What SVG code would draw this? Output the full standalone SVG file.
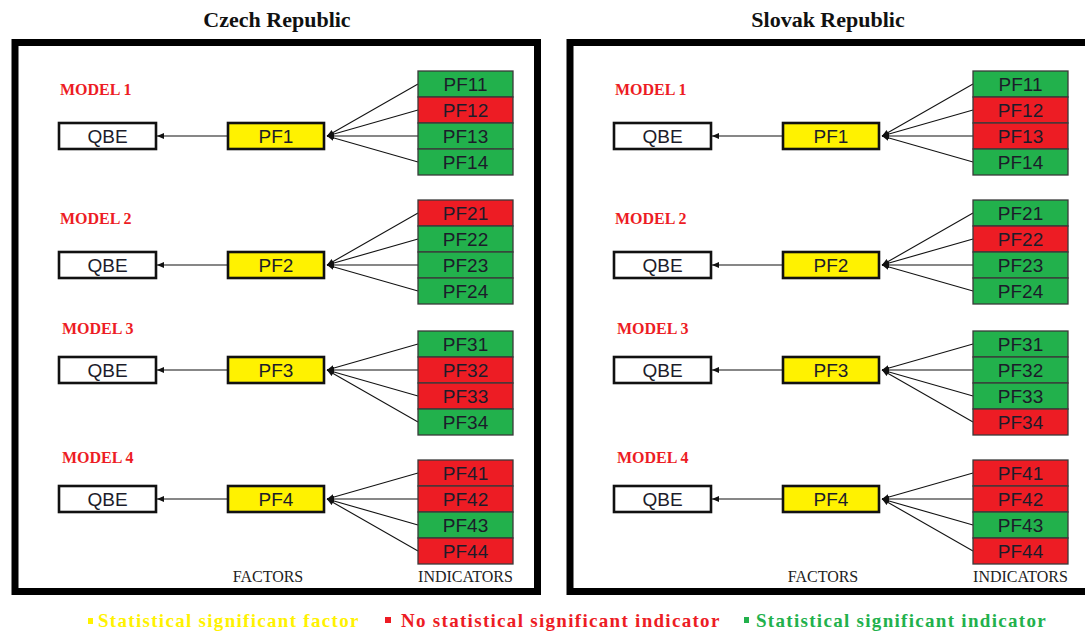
<svg xmlns="http://www.w3.org/2000/svg" width="1085" height="632" viewBox="0 0 1085 632">
  <style>
    .frame { fill: none; stroke: #000; stroke-width: 7; }
    .title { font-family: "Liberation Serif", "Times New Roman", serif; font-weight: bold; font-size: 22px; fill: #111; text-anchor: middle; }
    .model { font-family: "Liberation Serif", "Times New Roman", serif; font-weight: bold; font-size: 16px; fill: #ED1C24; }
    .axis { font-family: "Liberation Serif", "Times New Roman", serif; font-size: 16px; fill: #222; text-anchor: middle; }
    .lbl { font-family: "Liberation Sans", Arial, sans-serif; font-size: 19px; fill: #1c1c2a; text-anchor: middle; }
    .ind rect { stroke: #3a3a3a; stroke-width: 1.3; }
    .g rect { fill: #22B14C; }
    .r rect { fill: #ED1C24; }
    .fac rect { fill: #FFF200; stroke: #111; stroke-width: 2.6; }
    .qbe rect { fill: #fff; stroke: #111; stroke-width: 2.6; }
    .edges line { stroke: #111; stroke-width: 1.1; marker-end: url(#ah); }
    .legend { font-family: "Liberation Serif", "Times New Roman", serif; font-weight: bold; font-size: 19px; letter-spacing: 1.3px; }
  </style>
  <defs>
    <marker id="ah" markerUnits="userSpaceOnUse" markerWidth="8" markerHeight="8" refX="7" refY="3.5" orient="auto">
      <path d="M0,0.5 L7,3.5 L0,6.5 z" fill="#111"/>
    </marker>
  </defs>

  <rect width="1085" height="632" fill="#fff"/>

  <!-- panel titles -->
  <g id="titles">
    <text class="title" x="277" y="27">Czech Republic</text>
    <text class="title" x="828" y="27">Slovak Republic</text>
  </g>

  <!-- ===================== Czech Republic ===================== -->
  <g id="czech">
    <rect class="frame" x="15" y="42.5" width="522.5" height="549"/>

    <g id="cz-connectors" class="edges">
      <line x1="228" y1="136" x2="157" y2="136"/>
      <line x1="418" y1="84" x2="327" y2="136"/>
      <line x1="418" y1="110" x2="327" y2="136"/>
      <line x1="418" y1="136" x2="327" y2="136"/>
      <line x1="418" y1="162" x2="327" y2="136"/>

      <line x1="228" y1="265" x2="157" y2="265"/>
      <line x1="418" y1="213" x2="327" y2="265"/>
      <line x1="418" y1="239" x2="327" y2="265"/>
      <line x1="418" y1="265" x2="327" y2="265"/>
      <line x1="418" y1="291" x2="327" y2="265"/>

      <line x1="228" y1="370" x2="157" y2="370"/>
      <line x1="418" y1="344" x2="327" y2="370"/>
      <line x1="418" y1="370" x2="327" y2="370"/>
      <line x1="418" y1="396" x2="327" y2="370"/>
      <line x1="418" y1="422" x2="327" y2="370"/>

      <line x1="228" y1="499" x2="157" y2="499"/>
      <line x1="418" y1="473" x2="327" y2="499"/>
      <line x1="418" y1="499" x2="327" y2="499"/>
      <line x1="418" y1="525" x2="327" y2="499"/>
      <line x1="418" y1="551" x2="327" y2="499"/>
    </g>

    <text class="model" x="60" y="95">MODEL 1</text>
    <text class="model" x="60" y="224">MODEL 2</text>
    <text class="model" x="62" y="334">MODEL 3</text>
    <text class="model" x="62" y="463">MODEL 4</text>

    <!-- model 1 -->
    <g id="cz-qbe1" class="qbe"><rect x="59" y="123" width="97" height="26"/><text class="lbl" x="107.5" y="142.8">QBE</text></g>
    <g id="cz-pf1" class="fac"><rect x="228" y="123" width="96" height="26"/><text class="lbl" x="276" y="142.8">PF1</text></g>
    <g id="cz-pf11" class="ind g"><rect x="418" y="71" width="95" height="26"/><text class="lbl" x="465.5" y="90.8">PF11</text></g>
    <g id="cz-pf12" class="ind r"><rect x="418" y="97" width="95" height="26"/><text class="lbl" x="465.5" y="116.8">PF12</text></g>
    <g id="cz-pf13" class="ind g"><rect x="418" y="123" width="95" height="26"/><text class="lbl" x="465.5" y="142.8">PF13</text></g>
    <g id="cz-pf14" class="ind g"><rect x="418" y="149" width="95" height="26"/><text class="lbl" x="465.5" y="168.8">PF14</text></g>

    <!-- model 2 -->
    <g id="cz-qbe2" class="qbe"><rect x="59" y="252" width="97" height="26"/><text class="lbl" x="107.5" y="271.8">QBE</text></g>
    <g id="cz-pf2" class="fac"><rect x="228" y="252" width="96" height="26"/><text class="lbl" x="276" y="271.8">PF2</text></g>
    <g id="cz-pf21" class="ind r"><rect x="418" y="200" width="95" height="26"/><text class="lbl" x="465.5" y="219.8">PF21</text></g>
    <g id="cz-pf22" class="ind g"><rect x="418" y="226" width="95" height="26"/><text class="lbl" x="465.5" y="245.8">PF22</text></g>
    <g id="cz-pf23" class="ind g"><rect x="418" y="252" width="95" height="26"/><text class="lbl" x="465.5" y="271.8">PF23</text></g>
    <g id="cz-pf24" class="ind g"><rect x="418" y="278" width="95" height="26"/><text class="lbl" x="465.5" y="297.8">PF24</text></g>

    <!-- model 3 -->
    <g id="cz-qbe3" class="qbe"><rect x="59" y="357" width="97" height="26"/><text class="lbl" x="107.5" y="376.8">QBE</text></g>
    <g id="cz-pf3" class="fac"><rect x="228" y="357" width="96" height="26"/><text class="lbl" x="276" y="376.8">PF3</text></g>
    <g id="cz-pf31" class="ind g"><rect x="418" y="331" width="95" height="26"/><text class="lbl" x="465.5" y="350.8">PF31</text></g>
    <g id="cz-pf32" class="ind r"><rect x="418" y="357" width="95" height="26"/><text class="lbl" x="465.5" y="376.8">PF32</text></g>
    <g id="cz-pf33" class="ind r"><rect x="418" y="383" width="95" height="26"/><text class="lbl" x="465.5" y="402.8">PF33</text></g>
    <g id="cz-pf34" class="ind g"><rect x="418" y="409" width="95" height="26"/><text class="lbl" x="465.5" y="428.8">PF34</text></g>

    <!-- model 4 -->
    <g id="cz-qbe4" class="qbe"><rect x="59" y="486" width="97" height="26"/><text class="lbl" x="107.5" y="505.8">QBE</text></g>
    <g id="cz-pf4" class="fac"><rect x="228" y="486" width="96" height="26"/><text class="lbl" x="276" y="505.8">PF4</text></g>
    <g id="cz-pf41" class="ind r"><rect x="418" y="460" width="95" height="26"/><text class="lbl" x="465.5" y="479.8">PF41</text></g>
    <g id="cz-pf42" class="ind r"><rect x="418" y="486" width="95" height="26"/><text class="lbl" x="465.5" y="505.8">PF42</text></g>
    <g id="cz-pf43" class="ind g"><rect x="418" y="512" width="95" height="26"/><text class="lbl" x="465.5" y="531.8">PF43</text></g>
    <g id="cz-pf44" class="ind r"><rect x="418" y="538" width="95" height="26"/><text class="lbl" x="465.5" y="557.8">PF44</text></g>

    <text class="axis" x="268" y="582">FACTORS</text>
    <text class="axis" x="465.5" y="582">INDICATORS</text>
  </g>

  <!-- ===================== Slovak Republic ===================== -->
  <g id="slovak" transform="translate(555,0)">
    <rect class="frame" x="15" y="42.5" width="522.5" height="549"/>

    <g id="sk-connectors" class="edges">
      <line x1="228" y1="136" x2="157" y2="136"/>
      <line x1="418" y1="84" x2="327" y2="136"/>
      <line x1="418" y1="110" x2="327" y2="136"/>
      <line x1="418" y1="136" x2="327" y2="136"/>
      <line x1="418" y1="162" x2="327" y2="136"/>

      <line x1="228" y1="265" x2="157" y2="265"/>
      <line x1="418" y1="213" x2="327" y2="265"/>
      <line x1="418" y1="239" x2="327" y2="265"/>
      <line x1="418" y1="265" x2="327" y2="265"/>
      <line x1="418" y1="291" x2="327" y2="265"/>

      <line x1="228" y1="370" x2="157" y2="370"/>
      <line x1="418" y1="344" x2="327" y2="370"/>
      <line x1="418" y1="370" x2="327" y2="370"/>
      <line x1="418" y1="396" x2="327" y2="370"/>
      <line x1="418" y1="422" x2="327" y2="370"/>

      <line x1="228" y1="499" x2="157" y2="499"/>
      <line x1="418" y1="473" x2="327" y2="499"/>
      <line x1="418" y1="499" x2="327" y2="499"/>
      <line x1="418" y1="525" x2="327" y2="499"/>
      <line x1="418" y1="551" x2="327" y2="499"/>
    </g>

    <text class="model" x="60" y="95">MODEL 1</text>
    <text class="model" x="60" y="224">MODEL 2</text>
    <text class="model" x="62" y="334">MODEL 3</text>
    <text class="model" x="62" y="463">MODEL 4</text>

    <!-- model 1 -->
    <g id="sk-qbe1" class="qbe"><rect x="59" y="123" width="97" height="26"/><text class="lbl" x="107.5" y="142.8">QBE</text></g>
    <g id="sk-pf1" class="fac"><rect x="228" y="123" width="96" height="26"/><text class="lbl" x="276" y="142.8">PF1</text></g>
    <g id="sk-pf11" class="ind g"><rect x="418" y="71" width="95" height="26"/><text class="lbl" x="465.5" y="90.8">PF11</text></g>
    <g id="sk-pf12" class="ind r"><rect x="418" y="97" width="95" height="26"/><text class="lbl" x="465.5" y="116.8">PF12</text></g>
    <g id="sk-pf13" class="ind r"><rect x="418" y="123" width="95" height="26"/><text class="lbl" x="465.5" y="142.8">PF13</text></g>
    <g id="sk-pf14" class="ind g"><rect x="418" y="149" width="95" height="26"/><text class="lbl" x="465.5" y="168.8">PF14</text></g>

    <!-- model 2 -->
    <g id="sk-qbe2" class="qbe"><rect x="59" y="252" width="97" height="26"/><text class="lbl" x="107.5" y="271.8">QBE</text></g>
    <g id="sk-pf2" class="fac"><rect x="228" y="252" width="96" height="26"/><text class="lbl" x="276" y="271.8">PF2</text></g>
    <g id="sk-pf21" class="ind g"><rect x="418" y="200" width="95" height="26"/><text class="lbl" x="465.5" y="219.8">PF21</text></g>
    <g id="sk-pf22" class="ind r"><rect x="418" y="226" width="95" height="26"/><text class="lbl" x="465.5" y="245.8">PF22</text></g>
    <g id="sk-pf23" class="ind g"><rect x="418" y="252" width="95" height="26"/><text class="lbl" x="465.5" y="271.8">PF23</text></g>
    <g id="sk-pf24" class="ind g"><rect x="418" y="278" width="95" height="26"/><text class="lbl" x="465.5" y="297.8">PF24</text></g>

    <!-- model 3 -->
    <g id="sk-qbe3" class="qbe"><rect x="59" y="357" width="97" height="26"/><text class="lbl" x="107.5" y="376.8">QBE</text></g>
    <g id="sk-pf3" class="fac"><rect x="228" y="357" width="96" height="26"/><text class="lbl" x="276" y="376.8">PF3</text></g>
    <g id="sk-pf31" class="ind g"><rect x="418" y="331" width="95" height="26"/><text class="lbl" x="465.5" y="350.8">PF31</text></g>
    <g id="sk-pf32" class="ind g"><rect x="418" y="357" width="95" height="26"/><text class="lbl" x="465.5" y="376.8">PF32</text></g>
    <g id="sk-pf33" class="ind g"><rect x="418" y="383" width="95" height="26"/><text class="lbl" x="465.5" y="402.8">PF33</text></g>
    <g id="sk-pf34" class="ind r"><rect x="418" y="409" width="95" height="26"/><text class="lbl" x="465.5" y="428.8">PF34</text></g>

    <!-- model 4 -->
    <g id="sk-qbe4" class="qbe"><rect x="59" y="486" width="97" height="26"/><text class="lbl" x="107.5" y="505.8">QBE</text></g>
    <g id="sk-pf4" class="fac"><rect x="228" y="486" width="96" height="26"/><text class="lbl" x="276" y="505.8">PF4</text></g>
    <g id="sk-pf41" class="ind r"><rect x="418" y="460" width="95" height="26"/><text class="lbl" x="465.5" y="479.8">PF41</text></g>
    <g id="sk-pf42" class="ind r"><rect x="418" y="486" width="95" height="26"/><text class="lbl" x="465.5" y="505.8">PF42</text></g>
    <g id="sk-pf43" class="ind g"><rect x="418" y="512" width="95" height="26"/><text class="lbl" x="465.5" y="531.8">PF43</text></g>
    <g id="sk-pf44" class="ind r"><rect x="418" y="538" width="95" height="26"/><text class="lbl" x="465.5" y="557.8">PF44</text></g>

    <text class="axis" x="268" y="582">FACTORS</text>
    <text class="axis" x="465.5" y="582">INDICATORS</text>
  </g>

  <!-- legend -->
  <g id="legend">
    <rect x="88" y="618" width="5" height="6" fill="#FFF200"/>
    <text class="legend" x="98" y="627" fill="#FFF200">Statistical significant factor</text>
    <rect x="385" y="617" width="6" height="6" fill="#ED1C24"/>
    <text class="legend" x="401" y="627" fill="#ED1C24">No statistical significant indicator</text>
    <rect x="744" y="617" width="5" height="6" fill="#22B14C"/>
    <text class="legend" x="756" y="627" fill="#22B14C">Statistical significant indicator</text>
  </g>
</svg>
